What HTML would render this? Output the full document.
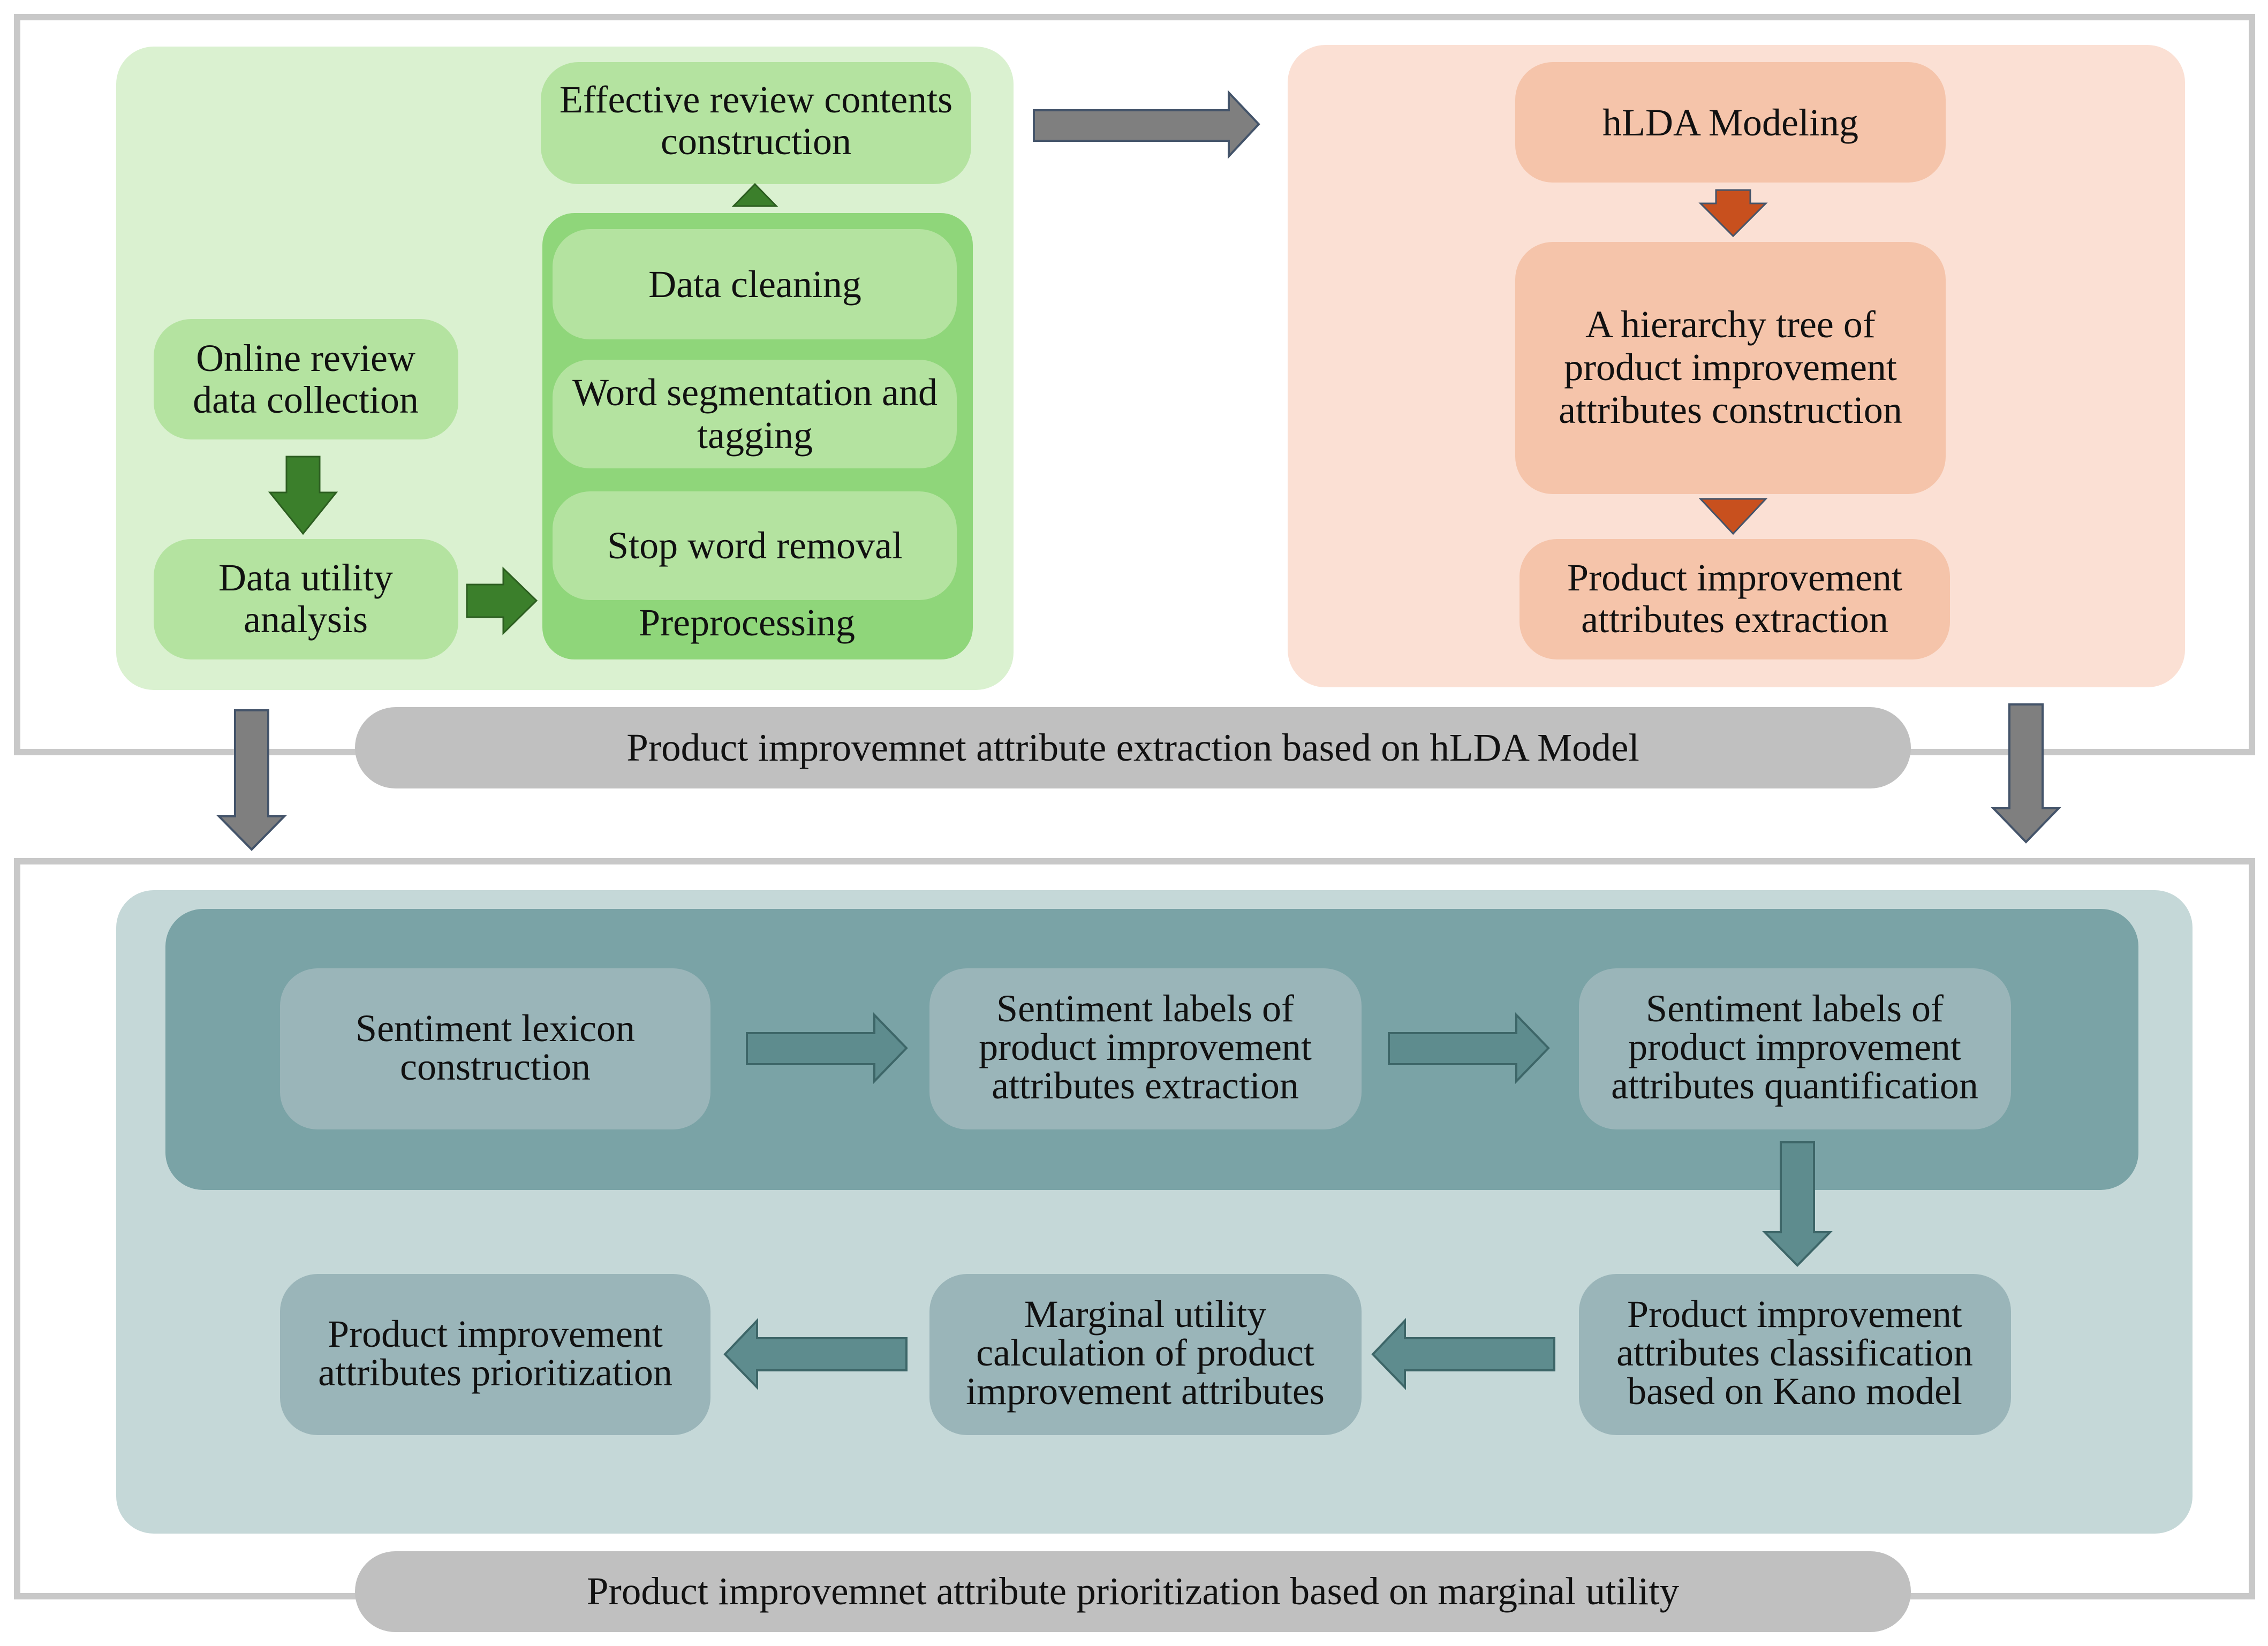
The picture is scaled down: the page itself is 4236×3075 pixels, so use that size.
<!DOCTYPE html>
<html><head><meta charset="utf-8"><style>
html,body{margin:0;padding:0;background:#fff}
svg{display:block}
text{font-family:"Liberation Serif",serif;font-size:72px;fill:#111;text-anchor:middle}
</style></head><body>
<svg width="4236" height="3075" viewBox="0 0 4236 3075" xmlns="http://www.w3.org/2000/svg">
<rect x="32" y="32" width="4174" height="1373" fill="none" stroke="#c8c8c8" stroke-width="12"/>
<rect x="32" y="1609" width="4174" height="1373" fill="none" stroke="#c8c8c8" stroke-width="12"/>

<rect x="217" y="87" width="1676" height="1202" rx="70" fill="#daf1d0"/>
<rect x="1010" y="116" width="804" height="228" rx="70" fill="#b4e3a0"/>
<text x="1412" y="210">Effective review contents</text>
<text x="1412" y="288">construction</text>
<polygon points="1370,385 1450,385 1410,344" fill="#3b7f2b" stroke="#2c5e20" stroke-width="3"/>
<rect x="1013" y="398" width="804" height="834" rx="60" fill="#8fd67a"/>
<rect x="1032" y="428" width="755" height="206" rx="70" fill="#b4e3a0"/>
<text x="1410" y="555">Data cleaning</text>
<rect x="1032" y="672" width="755" height="203" rx="70" fill="#b4e3a0"/>
<text x="1410" y="757">Word segmentation and</text>
<text x="1410" y="837">tagging</text>
<rect x="1032" y="918" width="755" height="203" rx="70" fill="#b4e3a0"/>
<text x="1410" y="1043">Stop word removal</text>
<text x="1395" y="1187">Preprocessing</text>
<rect x="287" y="596" width="569" height="225" rx="70" fill="#b4e3a0"/>
<text x="571" y="693">Online review</text>
<text x="571" y="771">data collection</text>
<polygon points="535,853 597,853 597,920 628,920 566,997 504,920 535,920" fill="#3b7f2b" stroke="#2c5e20" stroke-width="3"/>
<rect x="287" y="1007" width="569" height="225" rx="70" fill="#b4e3a0"/>
<text x="571" y="1103">Data utility</text>
<text x="571" y="1181">analysis</text>
<polygon points="872,1092 940,1092 940,1062 1002,1122 940,1183 940,1153 872,1153" fill="#3b7f2b" stroke="#2c5e20" stroke-width="3"/>

<polygon points="1931,206 2295,206 2295,173 2351,232 2295,292 2295,263 1931,263" fill="#7f7f7f" stroke="#44546a" stroke-width="4"/>

<rect x="2405" y="84" width="1676" height="1200" rx="70" fill="#fbe0d4"/>
<rect x="2830" y="116" width="804" height="225" rx="70" fill="#f5c4aa"/>
<text x="3232" y="253">hLDA Modeling</text>
<polygon points="3205,355 3269,355 3269,380 3298,380 3237,441 3176,380 3205,380" fill="#c8501e" stroke="#44546a" stroke-width="3"/>
<rect x="2830" y="452" width="804" height="471" rx="70" fill="#f5c4aa"/>
<text x="3232" y="630">A hierarchy tree of</text>
<text x="3232" y="710">product improvement</text>
<text x="3232" y="790">attributes  construction</text>
<polygon points="3176,932 3298,932 3237,997" fill="#c8501e" stroke="#44546a" stroke-width="3"/>
<rect x="2838" y="1007" width="804" height="225" rx="70" fill="#f5c4aa"/>
<text x="3240" y="1103">Product improvement</text>
<text x="3240" y="1181">attributes extraction</text>

<rect x="663" y="1321" width="2906" height="152" rx="76" fill="#c0c0c0"/>
<text x="2116" y="1421" style="font-size:73px">Product improvemnet attribute extraction based on hLDA Model</text>
<polygon points="439,1327 501,1327 501,1525 531,1525 470,1587 409,1525 439,1525" fill="#7f7f7f" stroke="#44546a" stroke-width="4"/>
<polygon points="3753,1316 3815,1316 3815,1510 3845,1510 3784,1573 3723,1510 3753,1510" fill="#7f7f7f" stroke="#44546a" stroke-width="4"/>

<rect x="217" y="1663" width="3878" height="1202" rx="70" fill="#c5d8d8"/>
<rect x="309" y="1698" width="3685" height="525" rx="70" fill="#7aa3a6"/>
<g fill="#9ab5b9">
<rect x="523" y="1809" width="804" height="301" rx="70"/>
<rect x="1736" y="1809" width="807" height="301" rx="70"/>
<rect x="2949" y="1809" width="807" height="301" rx="70"/>
<rect x="523" y="2380" width="804" height="301" rx="70"/>
<rect x="1736" y="2380" width="807" height="301" rx="70"/>
<rect x="2949" y="2380" width="807" height="301" rx="70"/>
</g>
<text x="925" y="1945">Sentiment lexicon</text>
<text x="925" y="2017">construction</text>
<text x="2139" y="1908">Sentiment labels of</text>
<text x="2139" y="1980">product improvement</text>
<text x="2139" y="2052">attributes extraction</text>
<text x="3352" y="1908">Sentiment labels of</text>
<text x="3352" y="1980">product improvement</text>
<text x="3352" y="2052">attributes quantification</text>
<text x="925" y="2516">Product improvement</text>
<text x="925" y="2588">attributes prioritization</text>
<text x="2139" y="2479">Marginal utility</text>
<text x="2139" y="2551">calculation of product</text>
<text x="2139" y="2623">improvement attributes</text>
<text x="3352" y="2479">Product improvement</text>
<text x="3352" y="2551">attributes classification</text>
<text x="3352" y="2623">based on Kano model</text>
<g fill="#5e8c8e" stroke="#3d6668" stroke-width="4">
<polygon points="1395,1930 1633,1930 1633,1896 1693,1958 1633,2020 1633,1988 1395,1988"/>
<polygon points="2594,1930 2832,1930 2832,1896 2892,1958 2832,2020 2832,1988 2594,1988"/>
<polygon points="3326,2134 3388,2134 3388,2302 3418,2302 3357,2364 3296,2302 3326,2302"/>
<polygon points="1693,2500 1414,2500 1414,2467 1354,2530 1414,2592 1414,2560 1693,2560"/>
<polygon points="2903,2500 2624,2500 2624,2467 2564,2530 2624,2592 2624,2560 2903,2560"/>
</g>

<rect x="663" y="2898" width="2906" height="151" rx="75" fill="#c0c0c0"/>
<text x="2116" y="2997" style="font-size:73px">Product improvemnet attribute prioritization based on marginal utility</text>
</svg>
</body></html>
